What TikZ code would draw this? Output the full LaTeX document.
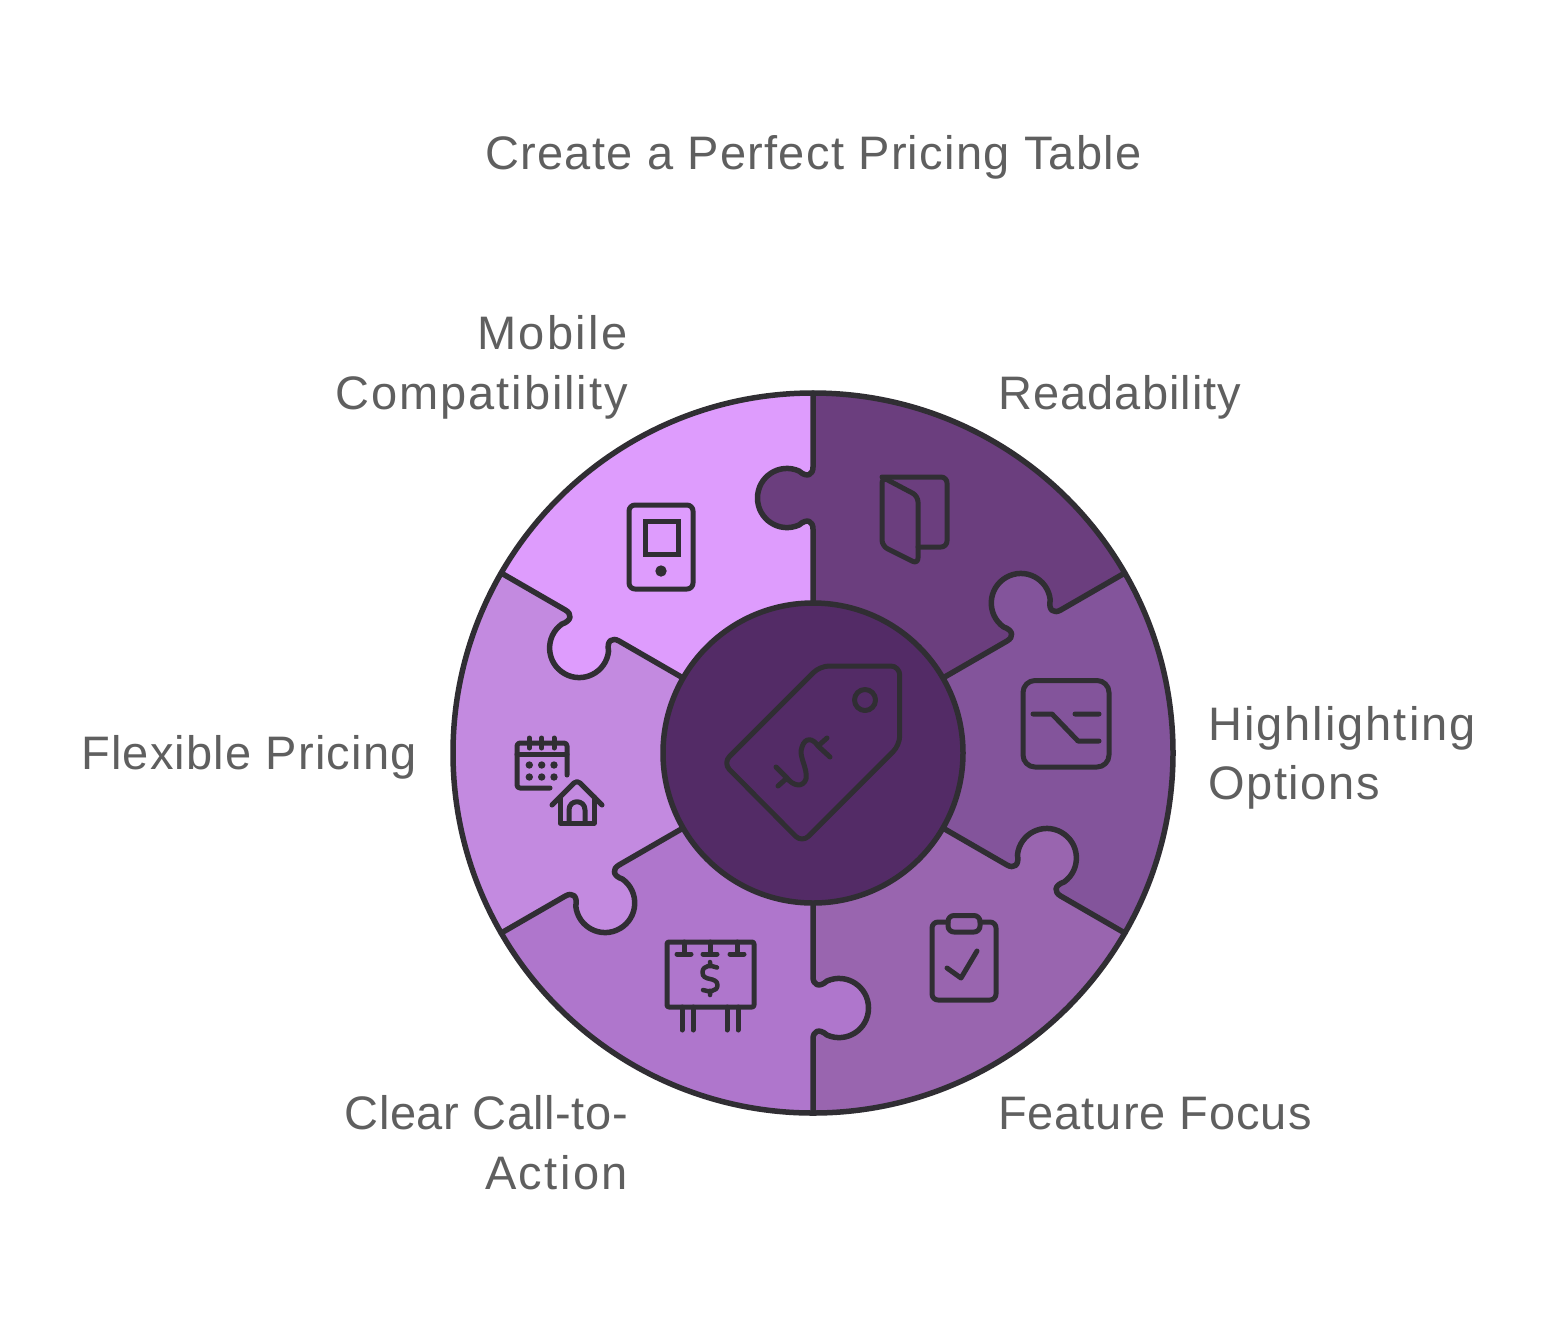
\documentclass[tikz,border=0pt]{standalone}
\usepackage{fontspec}
\setmainfont{Liberation Sans}
\definecolor{ink}{HTML}{302E33}
\definecolor{label}{HTML}{5F5F5F}
\definecolor{cRead}{HTML}{6B3E7E}
\definecolor{cHigh}{HTML}{83549B}
\definecolor{cFeat}{HTML}{9965AF}
\definecolor{cCall}{HTML}{AF76CC}
\definecolor{cFlex}{HTML}{C38AE0}
\definecolor{cMob}{HTML}{DE9CFD}
\definecolor{cCore}{HTML}{532B66}
\newcommand\seamat[2]{%
  \begin{scope}[shift={(813,753)},rotate=#1]
    \fill[#2] (224,6) -- (224,0) .. controls (232,0) and (235,-6) .. (228,-14)
      .. controls (219.3,-33.6) and (233.6,-55.5) .. (255,-55.5)
      .. controls (276.4,-55.5) and (290.7,-33.6) .. (282,-14)
      .. controls (275,-6) and (278,0) .. (286,0) -- (286,6) -- cycle;
    \draw[edge] (150,0) -- (224,0) .. controls (232,0) and (235,-6) .. (228,-14)
      .. controls (219.3,-33.6) and (233.6,-55.5) .. (255,-55.5)
      .. controls (276.4,-55.5) and (290.7,-33.6) .. (282,-14)
      .. controls (275,-6) and (278,0) .. (286,0) -- (360,0);
  \end{scope}}
\newcommand\spaced[2]{\addfontfeature{LetterSpace=#1}#2}
\tikzset{
  edge/.style={draw=ink,line width=5.5pt,line cap=round,line join=round},
  icon/.style={draw=ink,line width=5pt,line cap=round,line join=round},
  lab/.style={text=label,font=\fontsize{47}{60}\selectfont,inner sep=0pt,anchor=base},
  labr/.style={lab,anchor=base east},
  labl/.style={lab,anchor=base west}
}
\begin{document}
\begin{tikzpicture}[x=1pt,y=-1pt]
\useasboundingbox (0,0) rectangle (1565,1326);
\fill[white] (0,0) rectangle (1565,1326);
\begin{scope}
  \clip (813,753) circle[radius=360pt];
  \fill[cRead] (813,753) -- (813,253) -- (1246,503) -- cycle;
  \fill[cHigh] (813,753) -- (1246,503) -- (1246,1003) -- cycle;
  \fill[cFeat] (813,753) -- (1246,1003) -- (813,1253) -- cycle;
  \fill[cCall] (813,753) -- (813,1253) -- (380,1003) -- cycle;
  \fill[cFlex] (813,753) -- (380,1003) -- (380,503) -- cycle;
  \fill[cMob]  (813,753) -- (380,503) -- (813,253) -- cycle;
\end{scope}
\seamat{90}{cRead}
\seamat{30}{cHigh}
\seamat{-30}{cFeat}
\seamat{-90}{cCall}
\seamat{-150}{cFlex}
\seamat{150}{cMob}
\draw[edge] (813,753) circle[radius=360pt];
\draw[edge,fill=cCore] (813,753) circle[radius=150pt];
% tag
\draw[icon,rounded corners=9pt] (820,666) -- (899.7,666) -- (899.7,745) -- (802,842.7) -- (723,763) -- cycle;
\draw[icon] (865,700) circle[radius=10.5pt];
\draw[icon] (776,767) -- (787,778) (778,786) -- (787,778)
  .. controls (793,786) and (803,788) .. (806,779)
  .. controls (808,768) and (798,756) .. (802,747)
  .. controls (805,737) and (813,738) .. (818,746)
  (827,738) -- (818,746) -- (830,757);
% door
\draw[icon,rounded corners=6pt] (918,547) -- (947,547) -- (947,477) -- (882,477);
\draw[icon,rounded corners=6pt] (882,477) -- (918,496) -- (918,564) -- (882,546) -- cycle;
% tablet
\draw[icon,rounded corners=6pt] (629,505) rectangle (693,589);
\draw[icon,line cap=butt,line join=miter] (645,521) rectangle (678,554);
\draw[draw=ink,line width=5pt] (661,571) circle[radius=3pt];
% calendar
\draw[icon,rounded corners=3pt] (567,775) -- (567,743) -- (517,743) -- (517,788) -- (550,788);
\draw[icon] (517,754) -- (567,754) (529.3,738) -- (529.3,748) (541.7,738) -- (541.7,748) (554,738) -- (554,748);
\foreach \px in {529.3,541.7,554} \foreach \py in {765,777} \fill[ink] (\px,\py) circle[radius=3.7pt];
% house
\draw[icon,rounded corners=4pt] (552,805) -- (577,780) -- (602,805);
\draw[icon] (560,797) -- (560,823) -- (594,823) -- (594,797);
\draw[icon] (569,823) -- (569,810) .. controls (569,799) and (585,799) .. (585,810) -- (585,823);
% chart box
\draw[icon,rounded corners=12pt] (1023,680.5) rectangle (1109,767);
\draw[icon] (1033,714) -- (1052,714) -- (1078,741) -- (1099,741) (1075,714) -- (1099,714);
% clipboard
\draw[icon,rounded corners=6pt] (948,922) -- (932,922) -- (932,1000) -- (996,1000) -- (996,922) -- (980,922);
\draw[icon,rounded corners=6pt] (948,915.5) rectangle (980,932);
\draw[icon] (947,968) -- (961,978) -- (977,951);
% billboard
\draw[icon,rounded corners=2pt] (667,942) rectangle (754,1007);
\draw[icon] (684,942) -- (684,954) (677,954) -- (691,954) (710,942) -- (710,954) (703,954) -- (717,954) (737,942) -- (737,954) (730,954) -- (744,954);
\draw[icon] (682,1007) -- (682,1030) (693,1007) -- (693,1030) (727,1007) -- (727,1030) (738,1007) -- (738,1030);
\draw[icon,line width=4.5pt] (717,967.5) .. controls (711,965) and (703,965) .. (702.5,972) .. controls (702,982) and (717,976) .. (717.5,985) .. controls (717.5,992) and (708,992) .. (703,990) (710,962) -- (710,966) (710,991) -- (710,995);
% labels
\node[lab] (title) at (813.5,169) {\spaced{2.7}{Create a Perfect Pricing Table}};
\node[labr] (mob1) at (628,349) {\spaced{5.1}{Mobile}};
\node[labr] (mob2) at (628,409) {\spaced{4.1}{Compatibility}};
\node[labl] (read) at (998,409) {\spaced{2.3}{Readability}};
\node[labl] (high1) at (1208,740) {\spaced{4.25}{Highlighting}};
\node[labl] (high2) at (1208,799.5) {\spaced{3.5}{Options}};
\node[labr] (flex) at (417,769) {\spaced{2.55}{Flexible Pricing}};
\node[labl] (feat) at (998,1129) {\spaced{2}{Feature Focus}};
\node[labr] (call1) at (628,1129) {\spaced{1.1}{Clear Call-to-}};
\node[labr] (call2) at (628,1189) {\spaced{5.1}{Action}};
\end{tikzpicture}
\end{document}
